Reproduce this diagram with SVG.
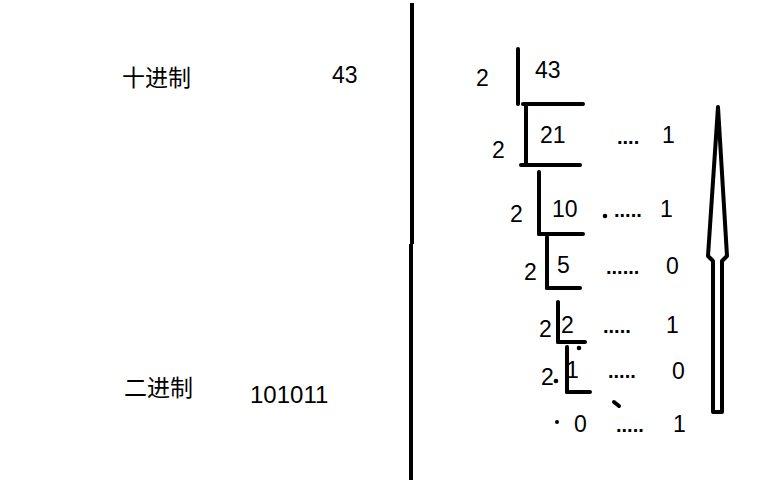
<svg xmlns="http://www.w3.org/2000/svg" width="768" height="480" viewBox="0 0 768 480">
<style>
.t{font-family:"Liberation Sans","Noto Sans CJK SC",sans-serif;font-size:23px;fill:#000}
.c{font-family:"Noto Sans CJK SC","Liberation Sans",sans-serif;font-size:23px;fill:#000}
.d{font-family:"Liberation Sans",sans-serif;font-size:20px;font-weight:bold;fill:#000}
.ln{stroke:#000;stroke-width:4;fill:none;stroke-linecap:round}
</style>
<rect width="768" height="480" fill="#fff"/>
<g id="left-labels">
<text class="c" x="122" y="86">十进制</text>
<text class="t" x="332" y="83">43</text>
<text class="c" x="124" y="396">二进制</text>
<text class="t" x="250" y="403" style="font-size:24px">101011</text>
</g>
<g id="divider">
<line x1="412" y1="3" x2="412" y2="244" stroke="#000" stroke-width="4"/>
<line x1="411" y1="244" x2="411" y2="480" stroke="#000" stroke-width="4"/>
</g>
<g id="division-lines">
<line class="ln" x1="518" y1="49" x2="518" y2="104"/>
<line class="ln" x1="523" y1="104" x2="583" y2="104"/>
<line class="ln" x1="526" y1="104" x2="526" y2="165"/>
<line class="ln" x1="521" y1="165" x2="580" y2="165"/>
<line class="ln" x1="539" y1="172" x2="539" y2="234"/>
<line class="ln" x1="539" y1="234" x2="583" y2="234"/>
<line class="ln" x1="547" y1="237" x2="547" y2="288"/>
<line class="ln" x1="547" y1="288" x2="580" y2="288"/>
<line class="ln" x1="558" y1="302" x2="558" y2="342"/>
<line class="ln" x1="558" y1="342" x2="585" y2="342"/>
<line class="ln" x1="567" y1="347" x2="567" y2="392"/>
<line class="ln" x1="567" y1="392" x2="590" y2="392"/>
<line class="ln" x1="614" y1="402" x2="619" y2="406"/>
<circle cx="605" cy="216" r="2.3"/>
<circle cx="579" cy="348" r="2.3"/>
<circle cx="556" cy="381" r="2.3"/>
<circle cx="557" cy="422" r="2"/>
</g>
<g id="divisors">
<text class="t" x="476" y="86">2</text>
<text class="t" x="492" y="158">2</text>
<text class="t" x="510" y="222">2</text>
<text class="t" x="524" y="280">2</text>
<text class="t" x="539" y="337">2</text>
<text class="t" x="541" y="385">2</text>
</g>
<g id="quotients">
<text class="t" x="535" y="78">43</text>
<text class="t" x="540" y="143">21</text>
<text class="t" x="552" y="217">10</text>
<text class="t" x="557" y="273">5</text>
<text class="t" x="561" y="333">2</text>
<text class="t" x="566" y="378">1</text>
<text class="t" x="574" y="432">0</text>
</g>
<g id="remainders">
<text class="d" x="617" y="144">....</text>
<text class="t" x="662" y="143">1</text>
<text class="d" x="614" y="217">.....</text>
<text class="t" x="660" y="217">1</text>
<text class="d" x="606" y="274">......</text>
<text class="t" x="666" y="274">0</text>
<text class="d" x="603" y="333">.....</text>
<text class="t" x="666" y="333">1</text>
<text class="d" x="608" y="378">.....</text>
<text class="t" x="672" y="379">0</text>
<text class="d" x="616" y="432">.....</text>
<text class="t" x="673" y="432">1</text>
</g>
<g id="arrow">
<path d="M718,107 L727,256 L722,261 L722,412 L713,412 L713,261 L708,256 Z" fill="#fff" stroke="#000" stroke-width="4" stroke-linejoin="round"/>
</g>
</svg>
